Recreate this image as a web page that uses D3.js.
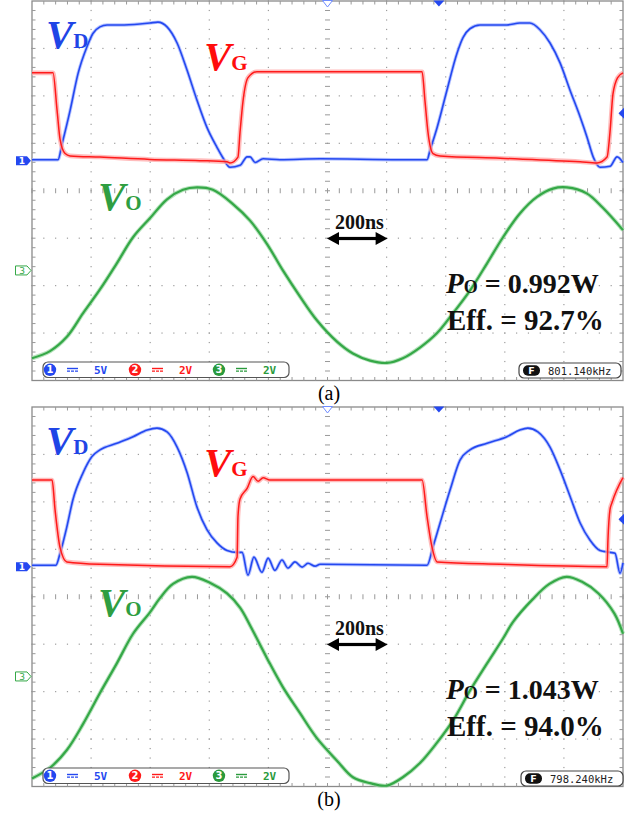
<!DOCTYPE html>
<html>
<head>
<meta charset="utf-8">
<script src="https://cdn.jsdelivr.net/npm/d3@7"></script>
<style>
  body { margin: 0; background: #fff; }
  svg { display: block; }
</style>
</head>
<body>
<script>
// time in ns (0 = screen centre), voltages in V

// panel (a)
const vdA = [[-1000,0.1],[-912,0.1],[-898,1.8],[-871,5.3],[-844,9.2],[-814,12.0],[-794,13.4],[-770,14.1],[-746,14.3],[-702,14.3],[-635,14.4],[-601,14.5],[-574,14.6],[-543,14.1],[-509,12.4],[-476,9.6],[-442,6.4],[-408,3.5],[-374,1.4],[-354,0.3],[-330,-0.7],[-296,-0.5],[-272,0.4],[-262,0.4],[-245,-0.2],[-218,0.2],[-161,0.1],[-25,0.2],[245,0.1],[337,0.1],[347,1.1],[371,3.5],[404,7.4],[438,11.3],[459,13.0],[482,13.9],[516,14.3],[607,14.3],[651,14.5],[685,14.5],[719,13.8],[753,12.4],[787,10.3],[821,7.4],[855,4.6],[878,2.5],[899,0.4],[922,-0.7],[956,-0.6],[980,0.4],[1000,-0.2]];
const vgA = [[-1000,3.7],[-929,3.7],[-915,2.1],[-905,0.9],[-888,0.3],[-871,0.2],[-770,0.15],[-601,0.05],[-432,0.0],[-340,-0.05],[-330,-0.1],[-303,0.15],[-296,1.2],[-286,2.5],[-269,3.5],[-239,3.75],[320,3.75],[330,2.5],[340,1.2],[357,0.3],[381,0.2],[584,0.1],[855,-0.05],[912,-0.1],[946,0.15],[956,1.2],[966,2.8],[982,3.5],[1000,3.7]];
const voA = [[-1000,-3.7],[-939,-3.4],[-882,-2.8],[-827,-1.8],[-770,-0.8],[-713,0.3],[-658,1.4],[-601,2.2],[-543,3.0],[-489,3.4],[-442,3.5],[-388,3.4],[-320,2.8],[-262,2.1],[-204,1.1],[-151,0.0],[-93,-1.1],[-36,-2.1],[32,-3.0],[86,-3.5],[144,-3.8],[201,-3.9],[255,-3.7],[313,-3.25],[370,-2.65],[425,-1.8],[482,-0.85],[540,0.3],[594,1.4],[651,2.4],[709,3.1],[763,3.45],[810,3.5],[877,3.25],[931,2.65],[1000,1.7]];

// panel (b)
const vdB = [[-1000,0.15],[-919,0.15],[-905,1.4],[-882,4.2],[-862,7.0],[-827,9.9],[-797,11.6],[-770,12.3],[-713,13.0],[-658,13.7],[-610,14.4],[-577,14.6],[-543,14.2],[-509,12.6],[-475,9.9],[-442,6.3],[-408,3.9],[-374,2.5],[-340,1.7],[-306,1.5],[-289,1.5],[-269,-0.9],[-249,1.0],[-222,-0.6],[-201,0.9],[-178,-0.4],[-154,0.7],[-134,-0.15],[-110,0.5],[-86,-0.05],[-66,0.35],[-42,0.05],[-25,0.25],[337,0.15],[357,2.1],[381,4.6],[415,8.1],[448,11.2],[482,12.3],[540,13.0],[607,13.7],[651,14.4],[678,14.6],[712,14.2],[753,12.6],[787,10.2],[821,7.4],[855,4.6],[888,2.8],[922,1.7],[956,1.5],[973,1.4],[990,-0.7],[1000,0.4]];
const vgB = [[-1000,3.65],[-932,3.65],[-922,2.4],[-905,0.8],[-882,0.2],[-770,0.1],[-330,0.0],[-306,0.4],[-303,2.1],[-296,2.85],[-272,3.3],[-252,3.8],[-235,3.6],[-218,3.75],[-195,3.65],[320,3.65],[337,2.1],[354,0.8],[371,0.2],[584,0.1],[946,0.0],[949,1.1],[956,2.4],[963,2.7],[1000,3.75]];
const voB = [[-1000,-4.3],[-939,-3.85],[-882,-3.1],[-827,-2.0],[-770,-0.7],[-713,0.55],[-658,1.8],[-601,2.7],[-567,3.3],[-523,3.9],[-459,4.2],[-398,3.95],[-340,3.5],[-296,2.9],[-262,2.15],[-204,0.75],[-151,-0.45],[-93,-1.55],[-36,-2.6],[32,-3.55],[86,-4.25],[144,-4.5],[201,-4.6],[255,-4.25],[313,-3.65],[370,-2.8],[425,-1.85],[482,-0.6],[540,0.55],[594,1.6],[628,2.3],[694,3.25],[751,3.9],[809,4.2],[860,4.0],[917,3.5],[971,2.65],[1000,1.8]];

const chanNames = ["1", "2", "3"];
const chanScales = ["5V", "2V", "2V"];
const voltsPerDiv = [5, 2, 2];
const groundDiv = [3.365, 3.365, 5.68];   // divisions down from the top edge
const freqs = ["801.140kHz", "798.240kHz"];
const powers = ["0.992W", "1.043W"];
const effs = ["92.7%", "94.0%"];
const captions = ["(a)", "(b)"];
const triggerTime = 377;   // ns
const triggerLevel = 5;    // V on channel 1

const LEFT = 32, W = 591, H = 379.5;
const panelTops = [1, 407];
const colBlue = "#2448f0", colRed = "#ff1a1a", colGreen = "#35a847";
const serif = "'Liberation Serif','Times New Roman',serif";
const mono = "'DejaVu Sans Mono',monospace";

const svg = d3.select("body").append("svg")
    .attr("width", 642).attr("height", 818);

const x = d3.scaleLinear().domain([-1000, 1000]).range([LEFT, LEFT + W]);
const xd = d3.scaleLinear().domain([0, 10]).range([LEFT, LEFT + W]);

function drawPanel(idx, traces) {
    const top = panelTops[idx];
    const g = svg.append("g");
    const yd = d3.scaleLinear().domain([0, 8]).range([top, top + H]);

    // one y scale per channel
    const ys = voltsPerDiv.map((vpd, i) => d3.scaleLinear()
        .domain([0, vpd])
        .range([yd(groundDiv[i]), yd(groundDiv[i] - 1)]));

    // graticule dots
    const dots = [];
    d3.range(1, 10).filter(k => k != 5).forEach(k => {
        d3.range(0, 8.001, 0.2).forEach(j => dots.push([xd(k), yd(j)]));
    });
    d3.range(1, 8).filter(k => k != 4).forEach(k => {
        d3.range(0, 10.001, 0.2).forEach(j => dots.push([xd(j), yd(k)]));
    });
    g.selectAll(".dot").data(dots).enter().append("rect")
        .attr("x", d => d[0] - 0.6).attr("y", d => d[1] - 0.6)
        .attr("width", 1.2).attr("height", 1.2)
        .attr("fill", "#9d9d9d");

    // centre cross ticks
    const cx = xd(5), cy = yd(4);
    d3.range(0, 8.001, 0.2).forEach(j => {
        g.append("line").attr("x1", cx - 2.5).attr("x2", cx + 2.5)
            .attr("y1", yd(j)).attr("y2", yd(j))
            .attr("stroke", "#999").attr("stroke-width", 1);
    });
    d3.range(0, 10.001, 0.2).forEach(j => {
        g.append("line").attr("x1", xd(j)).attr("x2", xd(j))
            .attr("y1", cy - 2.5).attr("y2", cy + 2.5)
            .attr("stroke", "#999").attr("stroke-width", 1);
    });

    // border + border ticks
    g.append("rect").attr("x", LEFT).attr("y", top).attr("width", W).attr("height", H)
        .attr("fill", "none").attr("stroke", "#8a8a8a").attr("stroke-width", 1.3);
    d3.range(0.2, 10, 0.2).forEach(j => {
        g.append("line").attr("x1", xd(j)).attr("x2", xd(j)).attr("y1", top).attr("y2", top + 3.5)
            .attr("stroke", "#999");
        g.append("line").attr("x1", xd(j)).attr("x2", xd(j)).attr("y1", top + H).attr("y2", top + H - 3.5)
            .attr("stroke", "#999");
    });
    d3.range(0.2, 8, 0.2).forEach(j => {
        g.append("line").attr("x1", LEFT).attr("x2", LEFT + 3.5).attr("y1", yd(j)).attr("y2", yd(j))
            .attr("stroke", "#999");
        g.append("line").attr("x1", LEFT + W).attr("x2", LEFT + W - 3.5).attr("y1", yd(j)).attr("y2", yd(j))
            .attr("stroke", "#999");
    });

    // traces: green, blue, red
    const specs = [
        { data: traces[2], y: ys[2], col: colGreen, halo: "#9fd9a7", w: 2.2, hw: 4.2, curve: d3.curveCatmullRom.alpha(0.5) },
        { data: traces[0], y: ys[0], col: colBlue, halo: "#9fb0ff", w: 1.6, hw: 3.4, curve: d3.curveMonotoneX },
        { data: traces[1], y: ys[1], col: colRed, halo: "#ffa5a5", w: 1.5, hw: 4.6, curve: d3.curveMonotoneX }
    ];
    specs.forEach(s => {
        const line = d3.line().x(d => x(d[0])).y(d => s.y(d[1])).curve(s.curve);
        g.append("path").attr("d", line(s.data)).attr("fill", "none")
            .attr("stroke", s.halo).attr("stroke-width", s.hw).attr("stroke-linejoin", "round")
            .attr("opacity", 0.75);
        g.append("path").attr("d", line(s.data)).attr("fill", "none")
            .attr("stroke", s.col).attr("stroke-width", s.w).attr("stroke-linejoin", "round");
    });

    // channel ground markers
    const y1 = ys[0](0);
    g.append("path")
        .attr("d", `M16,${y1 - 4.5}H27L31,${y1}L27,${y1 + 4.5}H16Z`)
        .attr("fill", colBlue);
    g.append("text").attr("x", 22).attr("y", y1 + 3.3).attr("text-anchor", "middle")
        .attr("font-family", "'DejaVu Sans',sans-serif").attr("font-weight", "bold")
        .attr("font-size", 9).attr("fill", "#fff").text(chanNames[0]);
    const y3 = ys[2](0);
    g.append("path")
        .attr("d", `M15.5,${y3 - 4.5}H27L31,${y3}L27,${y3 + 4.5}H15.5Z`)
        .attr("fill", "#fff").attr("stroke", colGreen).attr("stroke-width", 1);
    g.append("text").attr("x", 22).attr("y", y3 + 3.3).attr("text-anchor", "middle")
        .attr("font-family", "'DejaVu Sans',sans-serif")
        .attr("font-size", 9).attr("fill", colGreen).text(chanNames[2]);

    // top markers and trigger level
    const c0 = x(0);
    g.append("path").attr("d", `M${c0 - 5},${top - 0.5}L${c0 + 5},${top - 0.5}L${c0},${top + 6}Z`)
        .attr("fill", "#fff").attr("stroke", "#6f8cff").attr("stroke-width", 1);
    const tt = x(triggerTime);
    g.append("path").attr("d", `M${tt - 5.5},${top - 0.5}L${tt + 5.5},${top - 0.5}L${tt},${top + 5.5}Z`)
        .attr("fill", colBlue);
    const tl = ys[0](triggerLevel);
    g.append("path").attr("d", `M${LEFT + W + 1},${tl - 5.5}L${LEFT + W + 1},${tl + 5.5}L${LEFT + W - 4.5},${tl}Z`)
        .attr("fill", colBlue);

    // trace labels, V italic + upright subscript in one text
    const labels = [
        { x: 46, y: 47, sub: "D", col: "#1f45e6" },
        { x: 204, y: 69, sub: "G", col: "#ff0d0d" },
        { x: 98, y: 209, sub: "O", col: "#2f9e41" }
    ];
    labels.forEach(l => {
        const t = g.append("text").attr("x", l.x).attr("y", top + l.y)
            .attr("font-family", serif).attr("font-weight", "bold").attr("fill", l.col);
        t.append("tspan").attr("font-style", "italic").attr("font-size", 41).text("V");
        t.append("tspan").attr("font-size", 21).text(l.sub);
    });

    // 200ns arrow (one division)
    const ax0 = x(0) - 0.5, ax1 = x(200) + 1, ay = top + 237.5;
    g.append("rect").attr("x", ax0 + 8).attr("y", ay - 1.6).attr("width", ax1 - ax0 - 16).attr("height", 3.2)
        .attr("fill", "#000");
    g.append("path").attr("d", `M${ax0},${ay}L${ax0 + 12},${ay - 6.5}L${ax0 + 12},${ay + 6.5}Z`).attr("fill", "#000");
    g.append("path").attr("d", `M${ax1},${ay}L${ax1 - 12},${ay - 6.5}L${ax1 - 12},${ay + 6.5}Z`).attr("fill", "#000");
    g.append("text").attr("x", 335).attr("y", top + 227.5)
        .attr("font-family", serif).attr("font-weight", "bold").attr("font-size", 20)
        .attr("fill", "#111").text("200ns");

    // power and efficiency
    const pt = g.append("text").attr("x", 446).attr("y", top + 292)
        .attr("font-family", serif).attr("font-weight", "bold").attr("fill", "#111");
    pt.append("tspan").attr("font-style", "italic").attr("font-size", 29).text("P");
    pt.append("tspan").attr("font-size", 18).text("O");
    pt.append("tspan").attr("font-size", 28).text(" = " + powers[idx]);
    g.append("text").attr("x", 447).attr("y", top + 329)
        .attr("font-family", serif).attr("font-weight", "bold")
        .attr("font-size", 29).attr("fill", "#111").text("Eff. = " + effs[idx]);

    // channel legend box
    const ly = top + 361;
    g.append("rect").attr("x", 43).attr("y", ly).attr("width", 246).attr("height", 15.5).attr("rx", 5)
        .attr("fill", "#fff").attr("stroke", "#555").attr("stroke-width", 1.2);
    const legCols = [colBlue, colRed, "#2a9a3c"];
    [50, 135, 219].forEach((lx, i) => {
        const my = ly + 7.8;
        g.append("circle").attr("cx", lx).attr("cy", my).attr("r", 6.2).attr("fill", legCols[i]);
        g.append("text").attr("x", lx).attr("y", my + 3.6).attr("text-anchor", "middle")
            .attr("font-family", "'DejaVu Sans',sans-serif").attr("font-weight", "bold")
            .attr("font-size", 10).attr("fill", "#fff").text(chanNames[i]);
        g.append("line").attr("x1", lx + 17).attr("x2", lx + 28).attr("y1", my - 1.3).attr("y2", my - 1.3)
            .attr("stroke", legCols[i]).attr("stroke-width", 1.4);
        g.append("line").attr("x1", lx + 17).attr("x2", lx + 28).attr("y1", my + 1.3).attr("y2", my + 1.3)
            .attr("stroke", legCols[i]).attr("stroke-width", 1.4).attr("stroke-dasharray", "3,1");
        g.append("text").attr("x", lx + 44).attr("y", my + 4)
            .attr("font-family", mono).attr("font-weight", "bold").attr("font-size", 11).attr("fill", legCols[i])
            .text(chanScales[i]);
    });

    // frequency box
    const fy = top + 362 + idx * 2;
    const fx = 519 + idx * 2;
    g.append("rect").attr("x", fx).attr("y", fy).attr("width", 102).attr("height", 15).attr("rx", 5)
        .attr("fill", "#fff").attr("stroke", "#444").attr("stroke-width", 1.2);
    g.append("rect").attr("x", fx + 4).attr("y", fy + 2.2).attr("width", 17).attr("height", 10.6).attr("rx", 5)
        .attr("fill", "#111");
    g.append("text").attr("x", fx + 12.5).attr("y", fy + 11.3).attr("text-anchor", "middle")
        .attr("font-family", "'DejaVu Sans',sans-serif").attr("font-weight", "bold")
        .attr("font-size", 9.5).attr("fill", "#fff").text("F");
    g.append("text").attr("x", fx + 29).attr("y", fy + 11.5)
        .attr("font-family", mono).attr("font-size", 10.5).attr("fill", "#222").text(freqs[idx]);

    // caption
    svg.append("text").attr("x", 329).attr("y", top + H + 19.5).attr("text-anchor", "middle")
        .attr("font-family", serif).attr("font-size", 20).attr("fill", "#000").text(captions[idx]);
}

drawPanel(0, [vdA, vgA, voA]);
drawPanel(1, [vdB, vgB, voB]);
</script>
</body>
</html>
